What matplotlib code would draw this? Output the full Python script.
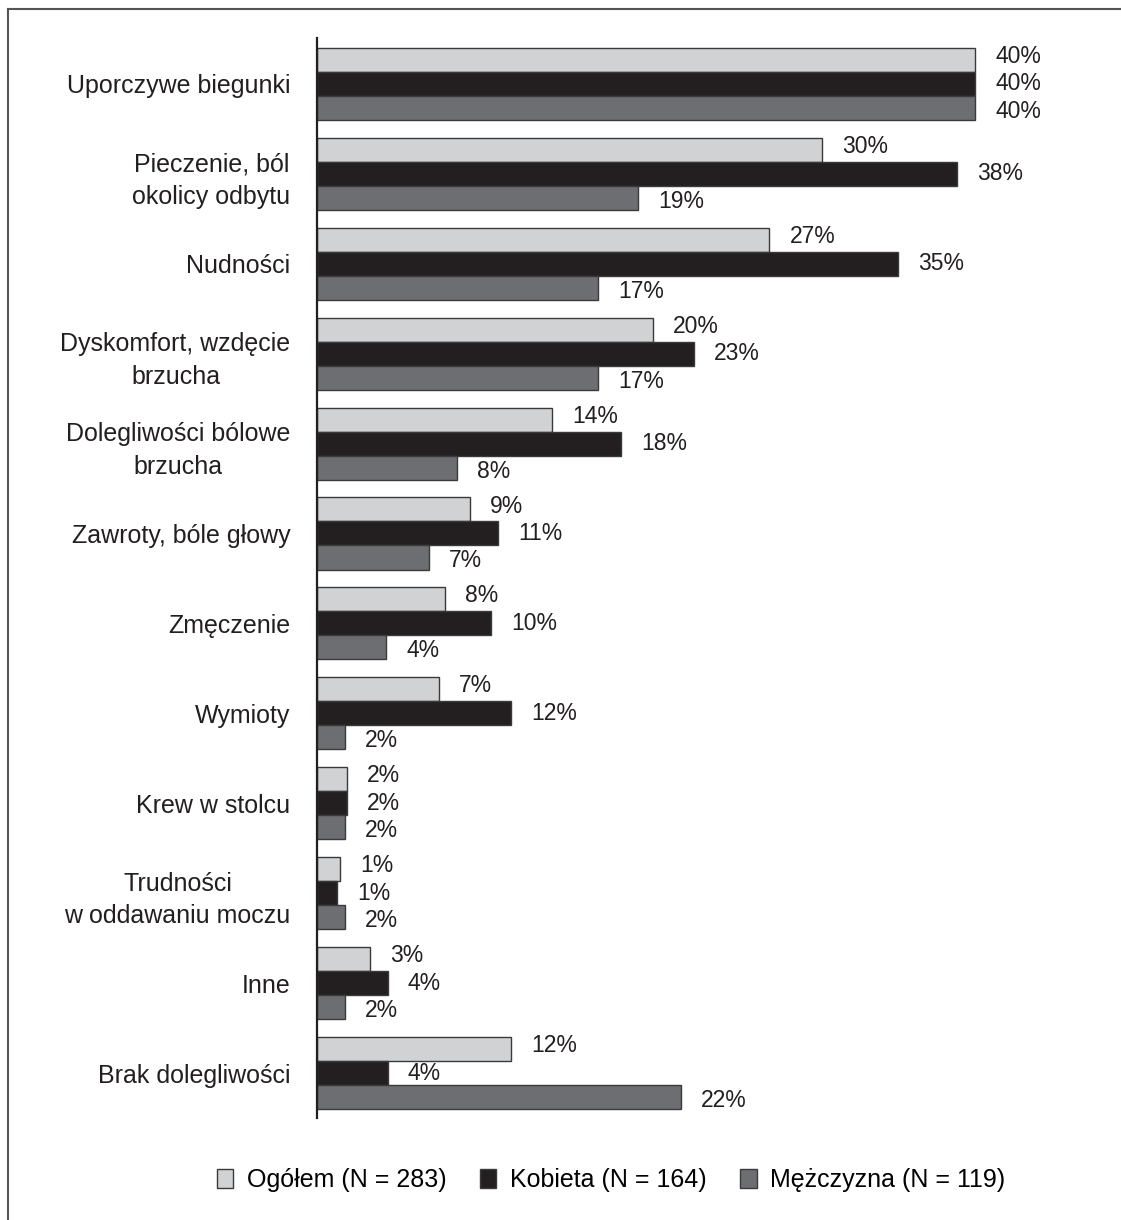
import matplotlib
matplotlib.use("Agg")
import matplotlib.pyplot as plt
from matplotlib.patches import Patch
from matplotlib.lines import Line2D
import numpy as np

plt.rcParams['font.family'] = ['Liberation Sans', 'DejaVu Sans']

categories = ["Uporczywe biegunki", "Pieczenie, ból\nokolicy odbytu", "Nudności",
              "Dyskomfort, wzdęcie\nbrzucha", "Dolegliwości bólowe\nbrzucha",
              "Zawroty, bóle głowy", "Zmęczenie", "Wymioty", "Krew w stolcu",
              "Trudności\nw oddawaniu moczu", "Inne", "Brak dolegliwości"]

ogolem = [40, 30.7, 27.5, 20.4, 14.3, 9.3, 7.8, 7.4, 1.8, 1.4, 3.2, 11.8]
kobieta = [40, 38.9, 35.3, 22.9, 18.5, 11.0, 10.6, 11.8, 1.8, 1.2, 4.3, 4.3]
mezczyzna = [40, 19.5, 17.1, 17.1, 8.5, 6.8, 4.2, 1.7, 1.7, 1.7, 1.7, 22.1]

ogolem_labels = ["40%", "30%", "27%", "20%", "14%", "9%", "8%", "7%", "2%", "1%", "3%", "12%"]
kobieta_labels = ["40%", "38%", "35%", "23%", "18%", "11%", "10%", "12%", "2%", "1%", "4%", "4%"]
mezczyzna_labels = ["40%", "19%", "17%", "17%", "8%", "7%", "4%", "2%", "2%", "2%", "2%", "22%"]

series_names = ["Ogółem (N = 283)", "Kobieta (N = 164)", "Mężczyzna (N = 119)"]
colors = ["#d1d2d4", "#231f20", "#6d6e71"]

W, H = 1121, 1220
fig = plt.figure(figsize=(W / 100, H / 100), dpi=100)
ax_left, ax_right = 317, 1100
ax_top, ax_bot = 38, 1118
ax = fig.add_axes([ax_left / W, 1 - ax_bot / H, (ax_right - ax_left) / W, (ax_bot - ax_top) / H])

y = np.arange(len(categories))
h = 0.267
label_dy = [-2.5, 0, 2.5]  # small vertical spread of the value labels (points)
series = [(ogolem, ogolem_labels), (kobieta, kobieta_labels), (mezczyzna, mezczyzna_labels)]
for i, ((vals, labs), col, name) in enumerate(zip(series, colors, series_names)):
    pos = y + (i - 1) * h
    bars = ax.barh(pos, vals, height=h, color=col, edgecolor="#3a3a3a", linewidth=1.0, label=name)
    for b, lab in zip(bars, labs):
        ax.annotate(lab, (b.get_width(), b.get_y() + b.get_height() / 2),
                    xytext=(14.5, -label_dy[i]), textcoords="offset points",
                    va="center", ha="left", fontsize=16.5, color="#231f20")

ax.set_ylim(len(categories) - 0.5, -0.51)
ax.set_xlim(0, (ax_right - ax_left) / 16.45)
ax.set_yticks(y)
ax.set_yticklabels(categories, fontsize=18, multialignment="center", color="#231f20",
                   linespacing=1.45)
ax.tick_params(axis="y", length=0, pad=19)
ax.set_xticks([])
for s in ["top", "right", "bottom"]:
    ax.spines[s].set_visible(False)
ax.spines["left"].set_linewidth(1.6)
ax.spines["left"].set_color("#231f20")

# outer frame (top and left lines)
fig.add_artist(Line2D([8 / W, 1], [1 - 9 / H, 1 - 9 / H], transform=fig.transFigure, color="#555555", linewidth=1.5))
fig.add_artist(Line2D([8 / W, 8 / W], [1 - 9 / H, 0], transform=fig.transFigure, color="#555555", linewidth=1.5))

handles = [Patch(facecolor=c, edgecolor="#3a3a3a", linewidth=1.0) for c in colors]
fig.legend(handles, series_names, loc="center", bbox_to_anchor=(611 / W, 1 - 1180 / H),
           ncol=3, frameon=False, fontsize=18, handlelength=0.65, handleheight=0.8,
           handletextpad=0.55, columnspacing=1.35)

fig.savefig("out.png", dpi=100)
